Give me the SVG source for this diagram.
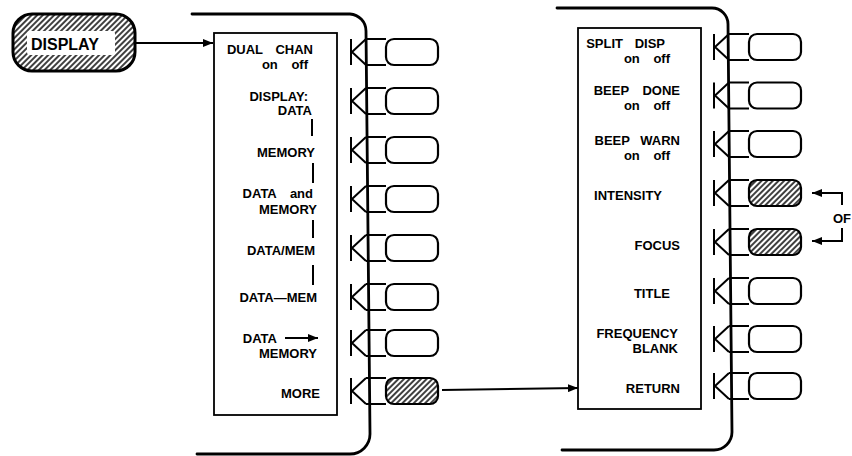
<svg xmlns="http://www.w3.org/2000/svg" xmlns:xlink="http://www.w3.org/1999/xlink" width="852" height="456" viewBox="0 0 852 456">
<style>
.t{font-family:"Liberation Sans",Arial,sans-serif;font-size:13px;font-weight:bold;fill:#000;text-anchor:end}
.ln{fill:none;stroke:#000;stroke-width:2}
.bz{fill:none;stroke:#000;stroke-width:2.8;stroke-linecap:round}
.box{fill:#fff;stroke:#000;stroke-width:1.8}
.sep{stroke:#000;stroke-width:2}
</style>
<defs>
<pattern id="hatch" patternUnits="userSpaceOnUse" width="4" height="4" patternTransform="rotate(45)">
<rect width="4" height="4" fill="#fff"/>
<line x1="1" y1="0" x2="1" y2="4" stroke="#000" stroke-width="1.5"/>
</pattern>
<marker id="ah" viewBox="0 0 10 8" refX="10" refY="4" markerWidth="10" markerHeight="8" markerUnits="userSpaceOnUse" orient="auto">
<path d="M0,0 L10,4 L0,8 Z" fill="#000"/>
</marker>
<g id="sk">
<path class="ln" d="M0,-13 V13 M15,-13 L1,0 L15,13 M15,-13 H35 M15,13 H35"/>
<rect x="35" y="-13" width="52" height="26" rx="8" fill="#fff" stroke="#000" stroke-width="2.2"/>
</g>
<g id="skh">
<path class="ln" d="M0,-13 V13 M15,-13 L1,0 L15,13 M15,-13 H35 M15,13 H35"/>
<rect x="35" y="-13" width="52" height="26" rx="8" fill="url(#hatch)" stroke="#000" stroke-width="2.2"/>
</g>
</defs>
<rect width="852" height="456" fill="#fff"/>

<g id="key-display">
<rect x="13" y="14" width="122" height="57" rx="19" fill="url(#hatch)" stroke="#000" stroke-width="3"/>
<rect x="27" y="31" width="88" height="24" rx="3" fill="#fff"/>
<text x="31" y="50" style="font-family:'Liberation Sans',Arial,sans-serif;font-size:16px;font-weight:bold">DISPLAY</text>
</g>

<g id="menu-1">
<path class="bz" d="M192,14 H350 A17,17 0 0 1 366,31 L370,434 A20,20 0 0 1 350,454 H197"/>
<rect class="box" x="214" y="33" width="123" height="382"/>
<use xlink:href="#sk" x="351" y="52"/>
<use xlink:href="#sk" x="351" y="101"/>
<use xlink:href="#sk" x="351" y="150"/>
<use xlink:href="#sk" x="351" y="199"/>
<use xlink:href="#sk" x="351" y="248"/>
<use xlink:href="#sk" x="351" y="297"/>
<use xlink:href="#sk" x="351" y="343"/>
<use xlink:href="#skh" x="351" y="391"/>
<text class="t" x="313" y="53.5" word-spacing="9">DUAL CHAN</text>
<text class="t" x="308" y="68.5" word-spacing="10">on off</text>
<text class="t" x="308" y="100.5">DISPLAY:</text>
<text class="t" x="312" y="115">DATA</text>
<line class="sep" x1="312" y1="119" x2="312" y2="136"/>
<text class="t" x="315" y="157">MEMORY</text>
<line class="sep" x1="313" y1="163" x2="313" y2="183"/>
<text class="t" x="313" y="198" word-spacing="10">DATA and</text>
<text class="t" x="317" y="214">MEMORY</text>
<line class="sep" x1="313" y1="220" x2="313" y2="238"/>
<text class="t" x="315" y="255">DATA/MEM</text>
<line class="sep" x1="313" y1="265" x2="313" y2="285"/>
<text class="t" x="317" y="302">DATA—MEM</text>
<text class="t" x="277" y="343">DATA</text>
<line class="ln" x1="285" y1="338" x2="318" y2="338" marker-end="url(#ah)"/>
<text class="t" x="317" y="358">MEMORY</text>
<text class="t" x="320" y="398">MORE</text>
</g>

<g id="menu-2">
<path class="bz" d="M557,8 H712 A16,16 0 0 1 728,24 L732,432 A18,18 0 0 1 714,450 H562"/>
<rect class="box" x="578" y="28" width="123" height="381"/>
<use xlink:href="#sk" x="714" y="47"/>
<use xlink:href="#sk" x="714" y="95.5"/>
<use xlink:href="#sk" x="714" y="144"/>
<use xlink:href="#skh" x="714" y="193"/>
<use xlink:href="#skh" x="714" y="242"/>
<use xlink:href="#sk" x="714" y="291"/>
<use xlink:href="#sk" x="714" y="339"/>
<use xlink:href="#sk" x="714" y="386"/>
<text class="t" x="665" y="47.5" word-spacing="8">SPLIT DISP</text>
<text class="t" x="670" y="62.5" word-spacing="10">on off</text>
<text class="t" x="680" y="95" word-spacing="10">BEEP DONE</text>
<text class="t" x="670" y="110" word-spacing="10">on off</text>
<text class="t" x="680" y="144.5" word-spacing="7">BEEP WARN</text>
<text class="t" x="670" y="159.5" word-spacing="10">on off</text>
<text class="t" x="662" y="200">INTENSITY</text>
<text class="t" x="680" y="250">FOCUS</text>
<text class="t" x="670" y="298">TITLE</text>
<text class="t" x="678" y="337.5">FREQUENCY</text>
<text class="t" x="678" y="352.5">BLANK</text>
<text class="t" x="680" y="393">RETURN</text>
</g>

<g id="note-or">
<path class="ln" d="M842,205 V193 H812" marker-end="url(#ah)"/>
<path class="ln" d="M842,228 V241 H812" marker-end="url(#ah)"/>
<text x="833" y="223" style="font-family:'Liberation Sans',Arial,sans-serif;font-size:13px;font-weight:bold">OF</text>
</g>

<g id="connectors">
<line class="ln" x1="135" y1="43" x2="213" y2="43" marker-end="url(#ah)"/>
<line class="ln" x1="442" y1="390" x2="578" y2="388" marker-end="url(#ah)"/>
</g>
</svg>
